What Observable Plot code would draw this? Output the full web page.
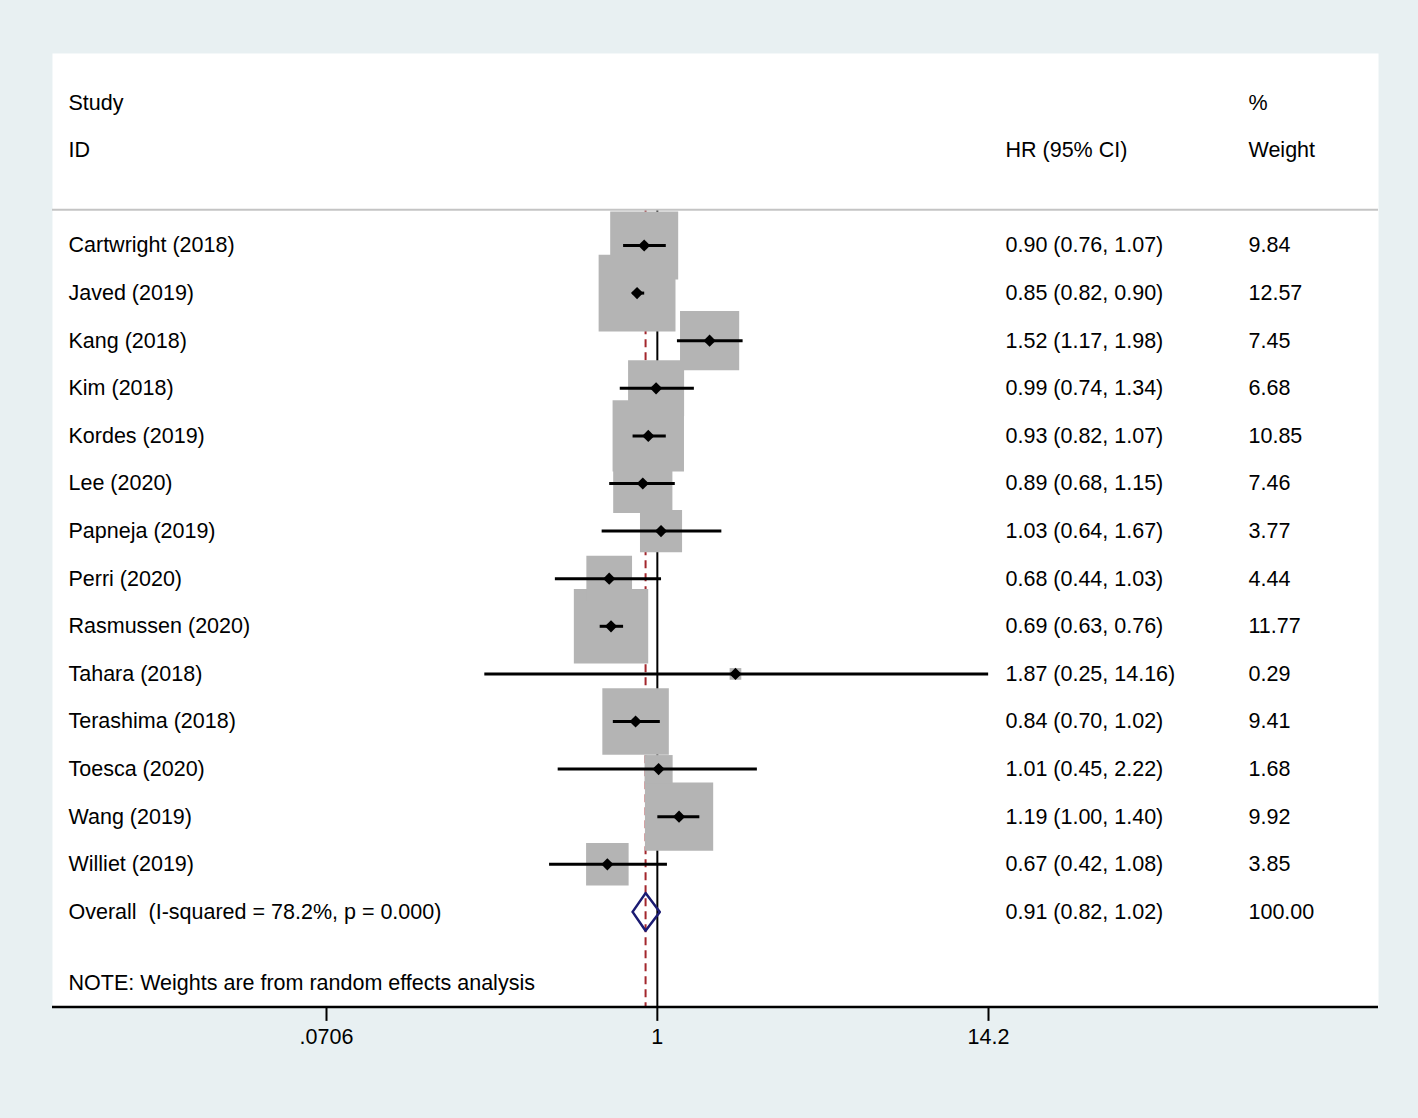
<!DOCTYPE html>
<html>
<head>
<meta charset="utf-8">
<script src="https://cdn.jsdelivr.net/npm/d3@7"></script>
<script src="https://cdn.jsdelivr.net/npm/@observablehq/plot@0.6"></script>
<style>
  html, body { margin: 0; padding: 0; background: #e8f0f2; }
</style>
</head>
<body>
<div id="chart"></div>
<script>
// ---- data ----
const studies = ["Cartwright (2018)", "Javed (2019)", "Kang (2018)", "Kim (2018)", "Kordes (2019)", "Lee (2020)", "Papneja (2019)", "Perri (2020)", "Rasmussen (2020)", "Tahara (2018)", "Terashima (2018)", "Toesca (2020)", "Wang (2019)", "Williet (2019)"];
const hr     = [0.90, 0.85, 1.52, 0.99, 0.93, 0.89, 1.03, 0.68, 0.69, 1.87, 0.84, 1.01, 1.19, 0.67];
const lo     = [0.76, 0.82, 1.17, 0.74, 0.82, 0.68, 0.64, 0.44, 0.63, 0.25, 0.70, 0.45, 1.00, 0.42];
const hi     = [1.07, 0.90, 1.98, 1.34, 1.07, 1.15, 1.67, 1.03, 0.76, 14.16, 1.02, 2.22, 1.40, 1.08];
const weight = [9.84, 12.57, 7.45, 6.68, 10.85, 7.46, 3.77, 4.44, 11.77, 0.29, 9.41, 1.68, 9.92, 3.85];
const overallHR = 0.91, overallLo = 0.82, overallHi = 1.02, overallWeight = 100.00;
const iSquared = 78.2, pValue = 0.000;
const tickValues = [0.0706, 1, 14.2];
const tickLabels = [".0706", "1", "14.2"];
const headers = [
  {text: "Study", row: -3, col: "study"},
  {text: "ID", row: -2, col: "study"},
  {text: "HR (95% CI)", row: -2, col: "hr"},
  {text: "%", row: -3, col: "w"},
  {text: "Weight", row: -2, col: "w"}
];
const note = "NOTE: Weights are from random effects analysis";

// ---- table ----
const rows = studies.map((s, i) => ({
  study: s, hr: hr[i], lo: lo[i], hi: hi[i], w: weight[i], row: i,
  label: `${hr[i].toFixed(2)} (${lo[i].toFixed(2)}, ${hi[i].toFixed(2)})`
}));
const overallRow = studies.length;
const overall = {
  study: `Overall\u00a0 (I-squared = ${iSquared.toFixed(1)}%, p = ${pValue.toFixed(3)})`,
  label: `${overallHR.toFixed(2)} (${overallLo.toFixed(2)}, ${overallHi.toFixed(2)})`,
  w: overallWeight, row: overallRow
};
const diamondH = 0.395;
const diamond = [
  {x: overallLo, y: overallRow},
  {x: overallHR, y: overallRow - diamondH},
  {x: overallHi, y: overallRow},
  {x: overallHR, y: overallRow + diamondH},
  {x: overallLo, y: overallRow}
];
const textRows = [...rows, overall];
const ticks = tickValues.map((v, i) => ({v, label: tickLabels[i]}));

const colDx = {study: 16, hr: -373, w: -130};
const colAnchor = {study: "left", hr: "right", w: "right"};
const font = "21.5px";

const chart = Plot.plot({
  width: 1418,
  height: 1118,
  marginLeft: 52, marginRight: 40, marginTop: 53, marginBottom: 111,
  style: {background: "#e8f0f2", fontFamily: "'Liberation Sans', Arial, sans-serif", fontSize: font, color: "#000"},
  x: {type: "log", domain: [0.0706, 14.2], range: [326, 988], axis: null},
  y: {domain: [-4, 16], range: [54.6, 1006.6], axis: null},
  r: {type: "sqrt", domain: [0, 100], range: [0, 122.3]},
  marks: [
    Plot.frame({fill: "white", stroke: null}),
    // reference lines
    Plot.ruleX([1], {y1: -0.75, y2: 16, stroke: "black", strokeWidth: 2}),
    Plot.ruleX([overallHR], {y1: -0.75, y2: 16, stroke: "#a3262c", strokeWidth: 2, strokeDasharray: "8,5"}),
    // weight boxes
    Plot.dot(rows, {x: "hr", y: "row", r: "w", symbol: "square", fill: "#b4b4b4", stroke: null}),
    // CIs
    Plot.link(rows, {x1: "lo", x2: "hi", y1: "row", y2: "row", stroke: "black", strokeWidth: 3}),
    Plot.dot(rows, {x: "hr", y: "row", r: 5.5, symbol: "diamond2", fill: "black", stroke: null}),
    // overall diamond
    Plot.line(diamond, {x: "x", y: "y", stroke: "#1b1b72", strokeWidth: 2.5, curve: "linear"}),
    // separator & axis line
    Plot.ruleY([-0.75], {stroke: "#c4c4c4", strokeWidth: 2}),
    Plot.ruleY([16], {stroke: "black", strokeWidth: 2.5}),
    Plot.ruleX(ticks, {x: "v", y1: 16, y2: 16.3, stroke: "black", strokeWidth: 2}),
    Plot.text(ticks, {x: "v", y: 16.64, text: "label", lineAnchor: "middle", textAnchor: "middle", fontSize: font, fill: "black"}),
    // header text
    ...["study", "hr", "w"].map(c => Plot.text(headers.filter(h => h.col === c), {
      y: "row", text: "text", frameAnchor: colAnchor[c], dx: colDx[c], textAnchor: "start", lineAnchor: "middle", fontSize: font, fill: "black"})),
    // table text
    Plot.text(textRows, {y: "row", text: "study", frameAnchor: "left", dx: colDx.study, textAnchor: "start", lineAnchor: "middle", fontSize: font, fill: "black"}),
    Plot.text(textRows, {y: "row", text: "label", frameAnchor: "right", dx: colDx.hr, textAnchor: "start", lineAnchor: "middle", fontSize: font, fill: "black"}),
    Plot.text(textRows, {y: "row", text: d => d.w.toFixed(2), frameAnchor: "right", dx: colDx.w, textAnchor: "start", lineAnchor: "middle", fontSize: font, fill: "black"}),
    Plot.text([note], {y: 15.5, text: d => d, frameAnchor: "left", dx: colDx.study, textAnchor: "start", lineAnchor: "middle", fontSize: font, fill: "black"})
  ]
});
document.getElementById("chart").appendChild(chart);
</script>
</body>
</html>
